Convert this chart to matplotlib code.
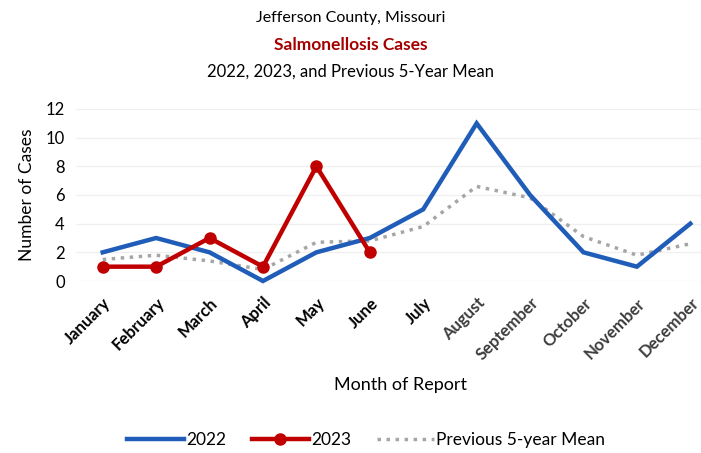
import matplotlib.pyplot as plt

plt.rcParams['font.family'] = ['Lato', 'DejaVu Sans']

months = ["January", "February", "March", "April", "May", "June",
          "July", "August", "September", "October", "November", "December"]
cases_2022 = [2, 3, 2, 0, 2, 3, 5, 11, 6, 2, 1, 4]
cases_2023 = [1, 1, 3, 1, 8, 2]
mean_5yr = [1.5, 1.8, 1.4, 0.8, 2.7, 2.8, 3.8, 6.6, 5.8, 3.1, 1.8, 2.6]

x = list(range(len(months)))

fig = plt.figure(figsize=(7.01, 4.53), dpi=100)
ax = fig.add_axes([76 / 701, 1 - 281 / 453, 625 / 701, 172 / 453])

ax.plot(x, cases_2022, color="#1F5DB8", lw=3.2, solid_joinstyle="miter",
        label="2022", clip_on=False, zorder=3)
ax.plot(x[:len(cases_2023)], cases_2023, color="#C00000", lw=3.2,
        marker="o", markersize=8, label="2023", clip_on=False, zorder=4)
ax.plot(x, mean_5yr, color="#A6A6A6", lw=2.5, ls=(0, (1, 1.6)),
        label="Previous 5-year Mean", clip_on=False, zorder=2)

ax.set_xlim(-0.5, 11.2)
ax.set_ylim(0, 12)
ax.set_yticks(range(0, 13, 2))
ax.set_xticks(x)
ax.set_xticklabels(months, rotation=45, ha="right", rotation_mode="anchor",
                   fontweight="bold", fontsize=12)
# later months look a bit lighter in the original
for lab in ax.get_xticklabels()[7:]:
    lab.set_color("#3C3C3C")
ax.tick_params(axis="y", labelsize=12, length=0, pad=8)
ax.tick_params(axis="x", length=0, pad=10)
ax.grid(axis="y", color="#F0F0F0", lw=1)
ax.set_axisbelow(True)
for s in ax.spines.values():
    s.set_visible(False)

ax.set_ylabel("Number of Cases", fontsize=12.5, labelpad=8)
fig.text(0.571, 1 - 385 / 453, "Month of Report", ha="center", va="center", fontsize=13)

fig.text(0.5, 1 - 18 / 453, "Jefferson County, Missouri", ha="center", va="center", fontsize=11.5)
fig.text(0.5, 1 - 45 / 453, "Salmonellosis Cases", ha="center", va="center",
         fontsize=12.5, fontweight="bold", color="#A50000")
fig.text(0.5, 1 - 72 / 453, "2022, 2023, and Previous 5-Year Mean", ha="center",
         va="center", fontsize=12)

fig.legend(loc="center", bbox_to_anchor=(0.522, 1 - 440 / 453), ncol=3, frameon=False,
           fontsize=12.5, handlelength=3.3, handletextpad=0.1, columnspacing=1.5)

fig.savefig("out.png", dpi=100)
